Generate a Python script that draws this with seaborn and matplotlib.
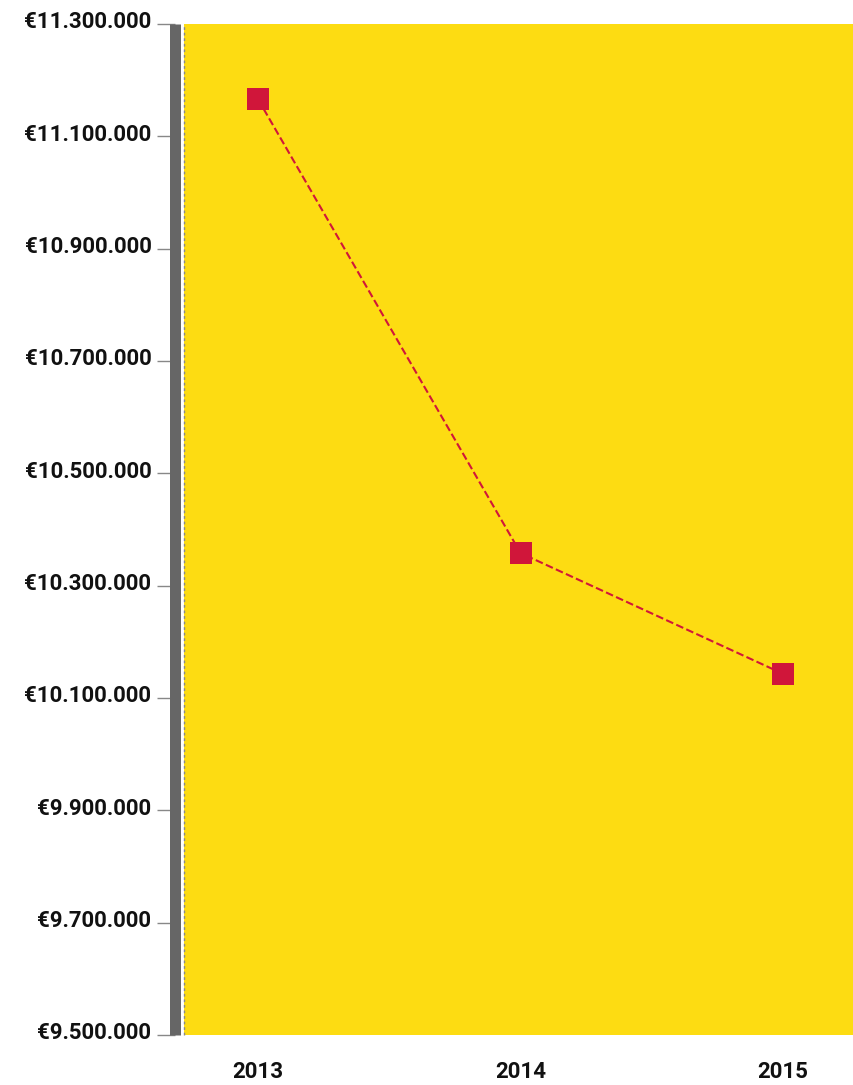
import matplotlib
matplotlib.use("Agg")
import matplotlib.pyplot as plt
import matplotlib.ticker as mticker
import matplotlib.transforms as mtransforms
import seaborn as sns
import pandas as pd

years  = ["2013", "2014", "2015"]
values = [11166000, 10358000, 10143000]
y_ticks = [9500000, 9700000, 9900000, 10100000, 10300000,
           10500000, 10700000, 10900000, 11100000, 11300000]

YELLOW = "#FDDC12"
RED    = "#D0163A"
GREY   = "#666666"

sns.set_theme(style="white")
plt.rcParams["font.family"] = ["Roboto", "DejaVu Sans"]

df = pd.DataFrame({"year": years, "value": values})

W, H = 854, 1085
fig = plt.figure(figsize=(W / 100, H / 100), dpi=100)
ax = fig.add_axes([184 / W, 1 - 1035 / H, (854 - 184) / W, (1035 - 24) / H])
ax.set_facecolor(YELLOW)

sns.lineplot(data=df, x="year", y="value", ax=ax, color=RED,
             linestyle="--", linewidth=1.5, marker="s", markersize=16,
             markeredgewidth=0, sort=False)

ax.set_xlim(-0.282, 2.27)
ax.set_ylim(y_ticks[0], y_ticks[-1])
ax.set_yticks(y_ticks)
ax.yaxis.set_major_formatter(mticker.FuncFormatter(
    lambda v, _: "€" + f"{int(round(v)):,}".replace(",", ".")))

# thick grey bar on the left, thin dashed line at the yellow edge
for s in ["top", "right", "bottom"]:
    ax.spines[s].set_visible(False)
ax.spines["left"].set_color(GREY)
ax.spines["left"].set_linewidth(11 * 0.72)
ax.spines["left"].set_capstyle("butt")
ax.spines["left"].set_position(("outward", 8.5 * 0.72))
ax.axvline(ax.get_xlim()[0], color="#888888", lw=1, ls=(0, (2, 2)),
           zorder=5, clip_on=False)

ax.tick_params(axis="y", left=True, direction="out", length=18.5 * 0.72,
               width=1, color="#888888", pad=4, labelsize=16,
               labelcolor="#111111")
ax.tick_params(axis="x", bottom=False, length=0, pad=19, labelsize=16,
               labelcolor="#111111")

lift = mtransforms.ScaledTranslation(0, 3 / 72, fig.dpi_scale_trans)
for lbl in ax.get_yticklabels():
    lbl.set_fontweight("bold")
    lbl.set_transform(lbl.get_transform() + lift)
for lbl in ax.get_xticklabels():
    lbl.set_fontweight("bold")

ax.set_xlabel("")
ax.set_ylabel("")
ax.grid(False)

fig.savefig("out.png", dpi=100, facecolor="white")
